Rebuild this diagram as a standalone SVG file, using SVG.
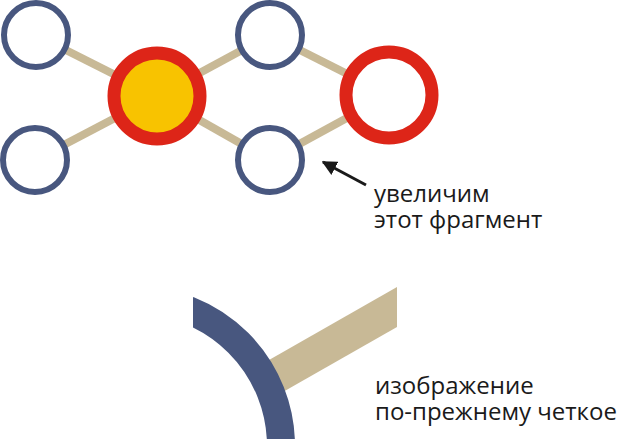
<svg xmlns="http://www.w3.org/2000/svg" width="620" height="439" viewBox="0 0 620 439">
<style>
.small{fill:#fff;stroke:#48577f;stroke-width:6}
.big{stroke:#dd2518;stroke-width:13}
.conn{stroke:#c8b996;stroke-width:8;fill:none}
.lbl{font-family:"Open Sans","DejaVu Sans",sans-serif;font-size:24px;fill:#1a1a1a}
</style>
<defs>
<marker id="ah" viewBox="0 0 10 10" refX="9" refY="5" markerWidth="5" markerHeight="5" orient="auto" markerUnits="strokeWidth">
<path d="M0,0 L10,5 L0,10 z" fill="#1a1a1a"/>
</marker>
<clipPath id="cp"><rect x="193" y="0" width="427" height="439"/></clipPath>
</defs>
<rect width="620" height="439" fill="#fff"/>
<g id="connectors">
<line class="conn" x1="36" y1="35" x2="157" y2="96"/>
<line class="conn" x1="35" y1="160" x2="157" y2="96"/>
<line class="conn" x1="157" y1="96" x2="270" y2="35"/>
<line class="conn" x1="157" y1="96" x2="270" y2="160"/>
<line class="conn" x1="270" y1="35" x2="389" y2="95"/>
<line class="conn" x1="270" y1="160" x2="389" y2="95"/>
</g>
<g id="n1"><circle class="small" cx="36" cy="35" r="32"/></g>
<g id="n2"><circle class="small" cx="35" cy="160" r="32"/></g>
<g id="n3"><circle class="big" cx="157" cy="96" r="43" fill="#f8c300"/></g>
<g id="n4"><circle class="small" cx="270" cy="35" r="32"/></g>
<g id="n5"><circle class="small" cx="270" cy="160" r="32"/></g>
<g id="n6"><circle class="big" cx="389" cy="95" r="43" fill="#fff"/></g>
<g id="arrow">
<line x1="366" y1="185" x2="323" y2="162" stroke="#1a1a1a" stroke-width="3" marker-end="url(#ah)"/>
</g>
<text class="lbl"><tspan x="374" y="202">увеличим</tspan><tspan x="374" y="228">этот фрагмент</tspan></text>
<g id="zoomed">
<polygon points="262,364 397,287 397,327 275,396.5" fill="#c8b996"/>
<circle cx="135" cy="446" r="146" fill="none" stroke="#48577f" stroke-width="28" clip-path="url(#cp)"/>
</g>
<text class="lbl"><tspan x="375" y="394">изображение</tspan><tspan x="375" y="420">по-прежнему четкое</tspan></text>
</svg>
